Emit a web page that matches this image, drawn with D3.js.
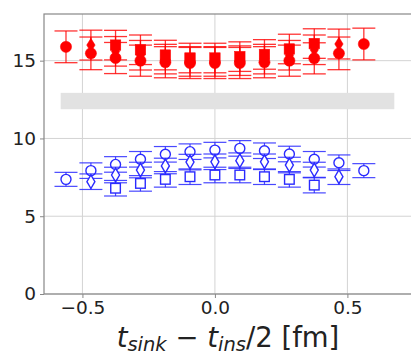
<!DOCTYPE html>
<html><head><meta charset="utf-8">
<script src="https://cdn.jsdelivr.net/npm/d3@7"></script>
<style>body{margin:0;background:#fff}svg{display:block}</style></head>
<body><svg id="c" width="411" height="357"></svg>
<script>
// ---- data ----
const x13 = [-0.562,-0.468,-0.375,-0.281,-0.187,-0.094,0,0.094,0.187,0.281,0.375,0.468,0.562];
const x11 = [-0.468,-0.375,-0.281,-0.187,-0.094,0,0.094,0.187,0.281,0.375,0.468];
const x9  = [-0.375,-0.281,-0.187,-0.094,0,0.094,0.187,0.281,0.375];

const redCircle  = [15.89,15.47,15.17,15.0,14.9,14.85,14.85,14.85,14.9,15.0,15.15,15.47,16.07];
const redCircleErr = [1.02,1.05,1.0,1.0,1.0,1.0,1.0,1.0,1.0,1.0,1.0,1.05,1.02];
const redDiamond = [16.0,15.6,15.35,15.1,14.95,14.95,15.0,15.1,15.35,15.7,16.07];
const redDiamondErr = [0.96,0.95,0.95,0.95,0.95,0.95,0.95,0.95,0.95,0.95,0.96];
const redSquare  = [16.0,15.7,15.36,15.17,15.17,15.26,15.4,15.75,16.1];
const redSquareErr = [0.95,0.95,0.95,0.95,0.95,0.95,0.95,0.95,0.95];

const blueCircle  = [7.37,7.93,8.33,8.66,8.98,9.15,9.25,9.36,9.21,9.0,8.66,8.44,7.93];
const blueCircleErr = [0.45,0.5,0.5,0.5,0.5,0.5,0.5,0.5,0.5,0.5,0.5,0.5,0.45];
const blueDiamond = [7.22,7.65,7.97,8.23,8.48,8.5,8.57,8.5,8.29,7.97,7.54];
const blueDiamondErr = [0.5,0.5,0.5,0.5,0.5,0.5,0.5,0.5,0.5,0.5,0.5];
const blueSquare  = [6.8,7.11,7.37,7.54,7.65,7.65,7.54,7.37,7.0];
const blueSquareErr = [0.5,0.5,0.5,0.5,0.5,0.5,0.5,0.5,0.5];

const bandX = [-0.582, 0.677];
const bandY = [11.88, 12.93];

const xTicks = [-0.5, 0.0, 0.5];
const yTicks = [0, 5, 10, 15];

// ---- layout ----
const svg = d3.select("#c");
const L = 44, R = 411, T = 14, B = 294;
const x = d3.scaleLinear().domain([-0.645, 0.74]).range([L, R]);
const y = d3.scaleLinear().domain([0, 18]).range([B, T]);

// grid
const g = svg.append("g");
g.selectAll(".gx").data(xTicks).join("line")
  .attr("x1", d => x(d)).attr("x2", d => x(d)).attr("y1", T).attr("y2", B)
  .attr("stroke", "#d3d3d3").attr("stroke-width", 1);
g.selectAll(".gy").data(yTicks).join("line")
  .attr("y1", d => y(d)).attr("y2", d => y(d)).attr("x1", L).attr("x2", R)
  .attr("stroke", "#d3d3d3").attr("stroke-width", 1);

// band
svg.append("rect")
  .attr("x", x(bandX[0])).attr("width", x(bandX[1]) - x(bandX[0]))
  .attr("y", y(bandY[1])).attr("height", y(bandY[0]) - y(bandY[1]))
  .attr("fill", "#e2e2e2");

// axes
const xAxis = d3.axisBottom(x).tickValues(xTicks).tickFormat(d => d === 0 ? "0.0" : d3.format(".1f")(d).replace("-", "\u2212")).tickSize(4).tickPadding(3);
const yAxis = d3.axisLeft(y).tickValues(yTicks).tickFormat(d3.format("d")).tickSize(4).tickPadding(4);
const ax = svg.append("g").attr("transform", `translate(0,${B})`).call(xAxis);
const ay = svg.append("g").attr("transform", `translate(${L},0)`).call(yAxis);
[ax, ay].forEach(a => {
  a.select(".domain").remove();
  a.selectAll(".tick line").attr("stroke", "#888");
  a.selectAll(".tick text").attr("font-family", "DejaVu Sans").attr("font-size", 18.5).attr("fill", "#222");
});
// frame
svg.append("rect").attr("x", L).attr("y", T).attr("width", R - L + 2).attr("height", B - T)
  .attr("fill", "none").attr("stroke", "#888").attr("stroke-width", 1.2);

// series
function errorbars(xs, ys, es, color, sw) {
  const gg = svg.append("g").attr("stroke", color).attr("stroke-width", sw);
  xs.forEach((xv, i) => {
    const cx = x(xv), y1 = y(ys[i] + es[i]), y0 = y(ys[i] - es[i]);
    gg.append("line").attr("x1", cx).attr("x2", cx).attr("y1", y1).attr("y2", y0);
    gg.append("line").attr("x1", cx - 11.5).attr("x2", cx + 11.5).attr("y1", y1).attr("y2", y1);
    gg.append("line").attr("x1", cx - 11.5).attr("x2", cx + 11.5).attr("y1", y0).attr("y2", y0);
  });
}
function markers(xs, ys, shape, color, filled) {
  const gg = svg.append("g");
  xs.forEach((xv, i) => {
    const cx = x(xv), cy = y(ys[i]);
    let el;
    if (shape === "circle") {
      el = gg.append("circle").attr("cx", cx).attr("cy", cy).attr("r", filled ? 5.6 : 5.0);
    } else if (shape === "square") {
      const s = filled ? 10.5 : 9.6;
      el = gg.append("rect").attr("x", cx - s/2).attr("y", cy - s/2).attr("width", s).attr("height", s);
    } else {
      const w = filled ? 4.2 : 4.0, h = 6.8;
      el = gg.append("path").attr("d", `M${cx},${cy-h}L${cx+w},${cy}L${cx},${cy+h}L${cx-w},${cy}Z`);
    }
    if (filled) el.attr("fill", color).attr("stroke", color).attr("stroke-width", 0.5);
    else el.attr("fill", "#fff").attr("stroke", color).attr("stroke-width", 1.4);
  });
}

const red = "#ff0000", blue = "#2a2aff";
errorbars(x13, blueCircle, blueCircleErr, "rgba(40,40,255,0.85)", 1.2);
markers(x13, blueCircle, "circle", blue, false);
errorbars(x11, blueDiamond, blueDiamondErr, "rgba(40,40,255,0.85)", 1.2);
markers(x11, blueDiamond, "diamond", blue, false);
errorbars(x9, blueSquare, blueSquareErr, "rgba(40,40,255,0.85)", 1.2);
markers(x9, blueSquare, "square", blue, false);

errorbars(x13, redCircle, redCircleErr, "rgba(255,0,0,0.8)", 1.3);
markers(x13, redCircle, "circle", red, true);
errorbars(x11, redDiamond, redDiamondErr, "rgba(255,0,0,0.8)", 1.3);
markers(x11, redDiamond, "diamond", red, true);
errorbars(x9, redSquare, redSquareErr, "rgba(255,0,0,0.8)", 1.3);
markers(x9, redSquare, "square", red, true);

// x label
const lab = svg.append("text").attr("x", 228).attr("y", 347)
  .attr("text-anchor", "middle").attr("font-family", "DejaVu Sans").attr("font-size", 27.5).attr("fill", "#222");
lab.append("tspan").attr("font-style", "italic").text("t");
lab.append("tspan").attr("font-style", "italic").attr("font-size", 19.5).attr("dy", 4).text("sink");
lab.append("tspan").attr("dy", -4).text(" \u2212 ");
lab.append("tspan").attr("font-style", "italic").text("t");
lab.append("tspan").attr("font-style", "italic").attr("font-size", 19.5).attr("dy", 4).text("ins");
lab.append("tspan").attr("dy", -4).text("/2 [fm]");
</script></body></html>
